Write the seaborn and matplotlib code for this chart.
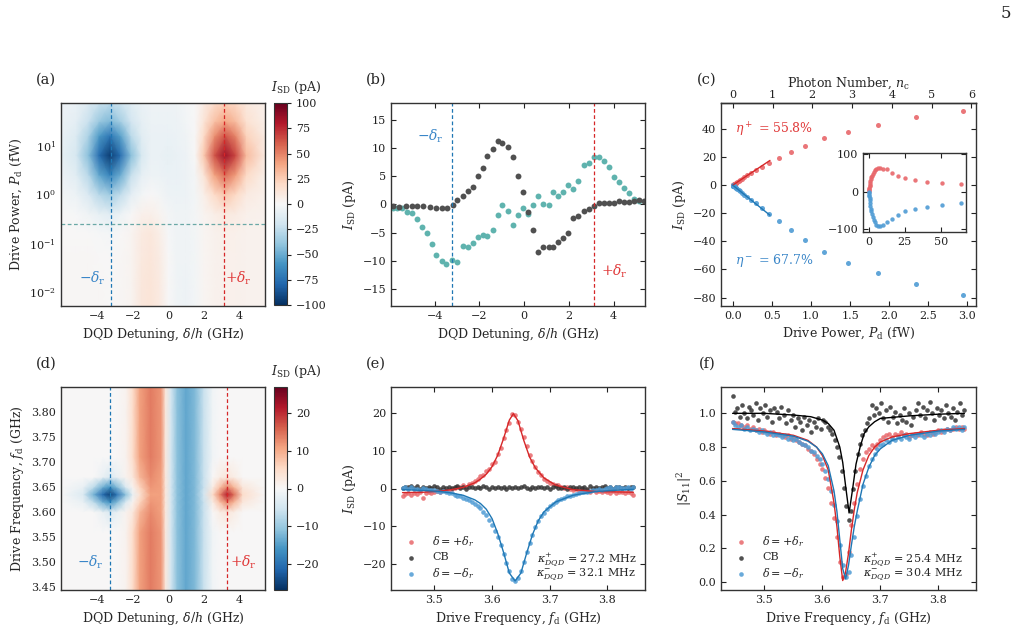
import numpy as np
import matplotlib
matplotlib.use("Agg")
import matplotlib.pyplot as plt
import seaborn as sns

# ========== data ==========
# (a) I_SD map: detuning (GHz) x log10 drive power (fW)
det_a = [-6.05, -5.2, -4.5, -3.9, -3.3, -2.7, -2.1, -1.5, -1.0, -0.5, 0.0,
         0.5, 1.0, 1.5, 2.0, 2.6, 3.2, 3.8, 4.4, 5.45]
logp_a = [-2.3, -1.8, -1.3, -0.8, -0.4, 0.0, 0.4, 0.8, 1.2, 1.5, 1.9]
isd_a = [
    [1, 1, 1, 1, 0, 1, 3, 11, 13, 9, 0, -4, -5, -3, 2, 4, 5, 5, 4, 4],
    [1, 1, 1, 1, 0, 1, 3, 11, 13, 9, 0, -4, -5, -3, 2, 4, 5, 5, 4, 4],
    [1, 1, 1, 0, 0, 1, 3, 10, 12, 8, 0, -4, -4, -3, 2, 4, 5, 5, 4, 4],
    [0, 0, 0, -1, -2, 0, 3, 9, 11, 7, -1, -4, -4, -3, 2, 4, 6, 5, 4, 4],
    [0, -1, -4, -8, -11, -6, 0, 5, 6, 3, -2, -4, -4, -2, 3, 7, 10, 8, 5, 4],
    [-3, -6, -15, -28, -35, -25, -10, -3, 0, -2, -5, -6, -5, -3, 6, 19, 28, 20, 9, 5],
    [-5, -11, -28, -52, -66, -50, -23, -9, -5, -6, -7, -7, -5, -2, 13, 40, 56, 42, 20, 6],
    [-8, -17, -42, -76, -95, -76, -42, -16, -7, -7, -8, -7, -5, 0, 26, 63, 85, 66, 32, 9],
    [-7, -14, -32, -57, -72, -54, -27, -11, -7, -7, -7, -6, -4, 0, 19, 46, 63, 49, 23, 8],
    [-6, -10, -22, -37, -44, -34, -18, -9, -6, -6, -6, -5, -3, 0, 13, 29, 39, 31, 15, 6],
    [-5, -7, -13, -21, -25, -19, -11, -7, -5, -5, -5, -4, -2, 0, 8, 17, 23, 18, 10, 5],
]

# (b) line cuts vs detuning
det_b_cb = [-5.84, -5.59, -5.28, -5.03, -4.77, -4.51, -4.21, -3.94, -3.69, -3.43,
            -3.20, -2.99, -2.75, -2.53, -2.30, -2.08, -1.86, -1.64, -1.41, -1.19,
            -0.97, -0.71, -0.49, -0.27, -0.04, 0.18, 0.40, 0.64, 0.86, 1.09,
            1.31, 1.53, 1.75, 1.98, 2.20, 2.42, 2.66, 2.88, 3.12, 3.35,
            3.57, 3.79, 4.01, 4.24, 4.46, 4.68, 4.91, 5.13, 5.35]
isd_b_cb = [-0.3, -0.4, -0.3, -0.3, -0.3, -0.3, -0.4, -0.7, -0.7, -0.7,
            -0.1, 0.8, 1.5, 2.4, 3.1, 5.1, 6.5, 8.5, 9.8, 11.3,
            10.9, 10.1, 8.4, 5.0, 2.2, -1.3, -4.6, -8.4, -7.6, -7.6,
            -7.6, -6.6, -6.0, -5.1, -2.4, -2.1, -1.2, -0.8, -0.3, 0.2,
            0.2, 0.2, 0.2, 0.6, 0.4, 0.4, 0.6, 0.8, 0.6]
det_b_low = [-5.84, -5.70, -5.48, -5.25, -5.03, -4.81, -4.58, -4.36, -4.14, -3.92,
             -3.69, -3.47, -3.22, -2.99, -2.75, -2.53, -2.30, -2.08, -1.86, -1.64,
             -1.41, -1.19, -0.97, -0.71, -0.49, -0.27, -0.04, 0.18, 0.40, 0.64,
             0.86, 1.09, 1.31, 1.53, 1.75, 1.98, 2.20, 2.42, 2.66, 2.88,
             3.12, 3.35, 3.57, 3.79, 4.01, 4.24, 4.46, 4.68, 4.91, 5.13]
isd_b_low = [-0.6, -0.7, -0.7, -1.3, -1.6, -2.6, -4.0, -5.1, -7.0, -9.0,
             -10.1, -10.5, -9.8, -10.2, -7.4, -7.5, -6.9, -5.8, -5.4, -5.6,
             -4.6, -1.8, -0.1, -1.2, -3.7, -1.9, -0.6, -1.7, -0.2, 1.4,
             0.0, -0.1, 2.1, 1.5, 2.1, 3.4, 2.7, 4.1, 7.0, 7.4,
             8.3, 8.4, 7.6, 6.6, 4.9, 3.9, 2.9, 2.0, 1.0, 0.6]

# (c) I_SD vs drive power at +/- delta_r
pd_c = [0.003, 0.005, 0.007, 0.009, 0.012, 0.015, 0.019, 0.023, 0.029, 0.037,
        0.047, 0.059, 0.074, 0.093, 0.117, 0.148, 0.186, 0.234, 0.294, 0.37,
        0.466, 0.587, 0.74, 0.93, 1.17, 1.477, 1.86, 2.34, 2.945]
isd_c_plus = [0.1, 0.2, 0.3, 0.35, 0.45, 0.55, 0.7, 0.85, 1.1, 1.4,
              1.8, 2.2, 2.8, 3.6, 4.6, 5.8, 7.0, 8.8, 10.5, 12.8,
              16.0, 19.2, 23.5, 28.2, 33.4, 37.6, 43.1, 48.3, 53.0]
isd_c_minus = [-0.15, -0.25, -0.35, -0.45, -0.55, -0.7, -0.9, -1.1, -1.4, -1.7,
               -2.2, -2.8, -3.5, -4.5, -5.6, -6.8, -8.4, -10.3, -12.5, -16.0,
               -20.7, -25.4, -32.0, -39.1, -47.4, -55.6, -62.3, -70.6, -78.1]
fit_c_x = [0.0, 0.476]
fit_c_plus = [0.0, 17.6]
fit_c_minus = [0.0, -21.4]
n_per_fw = 1.966  # photon number per fW (top axis)

# (c) inset, wider power range
pd_in = [0.05, 0.1, 0.2, 0.3, 0.45, 0.6, 0.8, 1.0, 1.3, 1.6, 2.0, 2.5, 3.2,
         4.0, 5.1, 6.4, 8.0, 10.1, 12.5, 15.8, 20.0, 25.3, 32.0, 40.2, 50.6, 63.9]
isd_in_plus = [1.8, 3.6, 7, 10, 14, 18, 23.5, 28, 33, 38, 43, 48, 53,
               57, 61, 63, 64, 62, 60, 51, 43, 36, 31, 27, 24, 20.5]
isd_in_minus = [-2.2, -4.5, -8.5, -12.5, -18, -24, -32, -39, -46, -53, -61, -68, -76,
                -83, -89, -92, -93, -90, -83, -74, -62, -53, -46, -41, -37, -31]

# (d) I_SD map: detuning (GHz) x drive frequency (GHz)
det_d = [-6.05, -4.8, -4.2, -3.7, -3.3, -2.9, -2.4, -2.0, -1.6, -1.0, -0.4, -0.15,
         0.15, 0.5, 1.0, 1.5, 2.0, 2.5, 2.9, 3.3, 3.7, 4.2, 5.45]
fd_d = [3.445, 3.56, 3.60, 3.62, 3.635, 3.65, 3.67, 3.71, 3.80, 3.849]
isd_d = [
    [0, 0, 0, 0, 0, 0, 1, 5, 11, 14, 12, 3, -5, -11, -14, -12, -6, -1, 0, 0, 0, 0, 0],
    [0, 0, 0, 0, 0, 0, 1, 5, 11, 14, 12, 3, -5, -11, -14, -12, -6, -1, 0, 0, 0, 0, 0],
    [0, 0, 0, -2, -4, -2, 1, 3, 9, 13, 11, 3, -5, -11, -14, -12, -6, 0, 2, 3, 2, 0, 0],
    [0, -2, -7, -13, -16, -12, -4, 1, 6, 12, 11, 3, -5, -11, -14, -12, -6, 2, 8, 13, 9, 3, 0],
    [0, -4, -13, -21, -25, -20, -11, -2, 4, 11, 11, 3, -5, -11, -14, -12, -5, 5, 13, 21, 15, 5, 0],
    [0, -2, -7, -13, -16, -12, -4, 1, 6, 12, 11, 3, -5, -11, -14, -12, -6, 2, 8, 13, 9, 3, 0],
    [0, 0, 0, -2, -4, -2, 1, 3, 9, 13, 11, 3, -5, -11, -14, -12, -6, 0, 2, 3, 2, 0, 0],
    [0, 0, 0, 0, 0, 0, 1, 5, 11, 14, 12, 3, -5, -11, -14, -12, -6, -1, 0, 0, 0, 0, 0],
    [0, 0, 0, 0, 0, 0, 1, 5, 11, 14, 12, 3, -5, -11, -14, -12, -6, -1, 0, 0, 0, 0, 0],
    [0, 0, 0, 0, 0, 0, 1, 5, 11, 14, 12, 3, -5, -11, -14, -12, -6, -1, 0, 0, 0, 0, 0],
]

# (e) I_SD vs drive frequency (sweep 3.445 .. 3.845 GHz)
isd_e_plus = [-1.9, -1.5, -1.3, -1.6, -1.2, -1.4, -0.9, -2.5, -1.1, -0.8,
              -1.2, -0.9, -0.6, -0.9, -0.4, -0.7, -0.3, -0.1, 0.2, 0.4,
              0.3, 0.8, 0.5, 1.2, 1.5, 2.0, 2.4, 3.2, 3.5, 4.6,
              5.3, 6.5, 7.0, 9.3, 10.8, 13.4, 15.6, 17.5, 19.9, 19.5,
              17.8, 15.9, 13.8, 11.2, 9.0, 7.4, 5.8, 4.3, 3.6, 2.6,
              2.0, 1.5, 1.2, 0.8, 0.9, 0.4, 0.1, 0.3, -0.2, -0.4,
              -0.1, -0.6, -0.3, -0.7, -0.5, -0.8, -0.4, -0.9, -0.6, -1.0,
              -0.7, -0.9, -1.1, -0.6, -1.2, -0.8, -1.0, -1.3, -0.9, -1.1,
              -1.6]
isd_e_cb = [0.1, 0.5, 0.3, 0.7, 0.2, 0.6, 0.0, 0.5, 0.2, 0.4,
            0.1, 0.6, 0.3, 0.0, 0.4, 0.2, 0.5, 0.1, 0.3, 0.6,
            0.2, 0.4, 0.0, 0.3, 0.5, 0.1, 0.4, 0.2, 0.6, 0.3,
            0.0, 0.4, 0.1, 0.5, 0.2, 0.3, 0.0, 0.4, 0.2, 0.5,
            0.1, 0.3, 0.6, 0.2, 0.0, 0.4, 0.1, 0.5, 0.3, 0.2,
            0.4, 0.0, 0.3, 0.6, 0.1, 0.2, 0.5, 0.0, 0.3, 0.4,
            0.2, 0.5, 0.1, 0.3, 0.0, 0.6, 0.2, 0.4, 0.1, 0.3,
            0.7, 0.2, 0.4, 0.0, 0.5, 0.3, 0.1, 0.4, 0.2, 0.5,
            0.3]
isd_e_minus = [0.1, 0.4, -0.2, 0.3, -0.1, 0.0, -0.3, 0.2, -0.2, -0.4,
               -0.3, -0.5, -0.6, -0.8, -0.7, -1.0, -1.1, -1.3, -1.6, -1.9,
               -2.0, -2.4, -2.7, -3.1, -3.6, -4.0, -4.7, -5.3, -6.2, -7.1,
               -8.4, -9.8, -11.2, -13.0, -15.1, -17.4, -19.9, -22.0, -24.0, -24.6,
               -23.8, -22.0, -19.6, -17.0, -14.6, -12.4, -10.3, -8.7, -7.4, -6.4,
               -5.4, -4.6, -4.0, -3.6, -3.1, -2.7, -2.5, -2.1, -1.9, -1.6,
               -1.5, -1.2, -1.0, -0.9, -0.8, -0.6, -0.4, -0.5, -0.2, -0.3,
               0.0, 0.2, 0.4, -0.1, 0.3, 0.5, 0.1, 0.2, 0.4, 0.0,
               0.3]
fit_e_plus_x = [3.445, 3.48, 3.51, 3.53, 3.55, 3.57, 3.58, 3.59, 3.60, 3.61, 3.62,
                3.63, 3.637, 3.645, 3.655, 3.665, 3.675, 3.69, 3.71, 3.74, 3.78, 3.845]
fit_e_plus = [-1.1, -1.0, -0.7, -0.3, 0.3, 1.5, 2.5, 3.8, 5.8, 8.9, 13.3,
              18.2, 19.9, 18.0, 12.8, 8.4, 5.5, 2.8, 0.9, -0.3, -0.8, -1.0]
fit_e_minus_x = [3.445, 3.48, 3.51, 3.53, 3.55, 3.57, 3.58, 3.59, 3.60, 3.61, 3.62,
                 3.63, 3.64, 3.65, 3.66, 3.67, 3.68, 3.69, 3.71, 3.74, 3.78, 3.845]
fit_e_minus = [-0.3, -0.5, -0.8, -1.2, -1.8, -3.0, -4.0, -5.5, -8.0, -12.0, -17.0,
               -22.5, -24.6, -22.5, -17.2, -12.3, -8.6, -6.2, -3.6, -1.8, -0.8, -0.2]

# (f) |S11|^2 vs drive frequency
s11_plus = [0.95, 0.94, 0.94, 0.93, 0.92, 0.93, 0.91, 0.92, 0.90, 0.91,
            0.89, 0.90, 0.89, 0.88, 0.89, 0.87, 0.88, 0.87, 0.86, 0.87,
            0.85, 0.86, 0.84, 0.83, 0.82, 0.81, 0.79, 0.78, 0.76, 0.73,
            0.70, 0.67, 0.62, 0.56, 0.47, 0.38, 0.27, 0.12, 0.03, 0.05,
            0.18, 0.34, 0.47, 0.58, 0.67, 0.73, 0.77, 0.79, 0.81, 0.80,
            0.82, 0.84, 0.86, 0.87, 0.88, 0.86, 0.88, 0.87, 0.89, 0.87,
            0.88, 0.86, 0.87, 0.88, 0.87, 0.89, 0.88, 0.87, 0.89, 0.88,
            0.89, 0.90, 0.89, 0.90, 0.91, 0.90, 0.91, 0.92, 0.91, 0.92,
            0.91]
s11_minus = [0.95, 0.93, 0.92, 0.93, 0.91, 0.92, 0.90, 0.91, 0.90, 0.89,
             0.90, 0.89, 0.88, 0.89, 0.87, 0.88, 0.87, 0.86, 0.87, 0.85,
             0.86, 0.84, 0.85, 0.83, 0.82, 0.81, 0.80, 0.78, 0.77, 0.75,
             0.73, 0.70, 0.66, 0.61, 0.54, 0.46, 0.36, 0.22, 0.10, 0.03,
             0.06, 0.16, 0.27, 0.39, 0.49, 0.57, 0.63, 0.69, 0.73, 0.76,
             0.79, 0.81, 0.82, 0.84, 0.83, 0.85, 0.84, 0.86, 0.85, 0.87,
             0.86, 0.85, 0.87, 0.86, 0.88, 0.87, 0.86, 0.88, 0.87, 0.89,
             0.88, 0.89, 0.90, 0.89, 0.91, 0.90, 0.92, 0.91, 0.92, 0.90,
             0.92]
s11_cb = [1.10, 1.01, 1.03, 0.98, 1.05, 1.00, 0.97, 1.04, 1.02, 0.99,
          1.06, 0.96, 1.03, 1.00, 1.05, 0.98, 1.02, 0.95, 1.03, 1.01,
          0.97, 1.04, 0.99, 0.94, 1.02, 0.96, 0.99, 0.92, 0.97, 0.95,
          0.90, 0.98, 0.93, 0.96, 0.89, 0.95, 0.92, 0.97, 0.91, 0.96,
          0.95, 0.92, 0.90, 0.88, 0.84, 0.80, 0.74, 0.66, 0.56, 0.45,
          0.37, 0.42, 0.55, 0.66, 0.76, 0.82, 0.87, 0.90, 0.94, 0.97,
          1.05, 0.99, 1.03, 1.00, 1.06, 0.97, 1.02, 0.95, 1.04, 0.98,
          1.01, 0.94, 0.99, 0.96, 1.03, 0.95, 1.00, 0.93, 0.98, 1.02,
          1.06, 0.99, 1.04, 0.97, 1.02, 1.07, 1.00, 0.96, 1.03, 0.99,
          1.02, 0.97, 1.05, 1.00, 0.98, 1.03, 0.96, 1.01, 1.06, 0.99,
          1.02]
fit_f_x = [3.445, 3.50, 3.55, 3.575, 3.59, 3.60, 3.61, 3.62, 3.625, 3.63, 3.635, 3.64,
           3.645, 3.65, 3.655, 3.66, 3.67, 3.68, 3.69, 3.70, 3.72, 3.75, 3.80, 3.845]
fit_f_plus = [0.91, 0.895, 0.87, 0.84, 0.80, 0.75, 0.665, 0.47, 0.33, 0.15, 0.01, 0.06,
              0.17, 0.31, 0.43, 0.53, 0.665, 0.75, 0.80, 0.83, 0.86, 0.88, 0.90, 0.91]
fit_f_minus = [0.905, 0.89, 0.865, 0.835, 0.80, 0.76, 0.69, 0.54, 0.42, 0.25, 0.08, 0.02,
               0.10, 0.22, 0.33, 0.42, 0.58, 0.68, 0.75, 0.79, 0.84, 0.87, 0.895, 0.905]
fit_f_cb_x = [3.445, 3.50, 3.55, 3.58, 3.60, 3.61, 3.62, 3.63, 3.635, 3.64, 3.646,
              3.652, 3.658, 3.665, 3.672, 3.68, 3.69, 3.70, 3.75, 3.80, 3.845]
fit_f_cb = [1.0, 1.0, 0.99, 0.98, 0.96, 0.94, 0.90, 0.80, 0.71, 0.57, 0.41,
            0.55, 0.70, 0.80, 0.88, 0.92, 0.95, 0.97, 0.985, 0.995, 1.0]

# ========== style ==========
sns.set_theme(style="ticks")
plt.rcParams['font.family'] = ['DejaVu Serif']
plt.rcParams['mathtext.fontset'] = 'dejavuserif'
plt.rcParams.update({
    'xtick.direction': 'in', 'ytick.direction': 'in',
    'xtick.top': True, 'ytick.right': True,
    'xtick.labelsize': 8, 'ytick.labelsize': 8, 'axes.labelsize': 9,
    'axes.edgecolor': '#333333', 'axes.linewidth': 1.0,
    'xtick.color': '#222222', 'ytick.color': '#222222',
    'xtick.major.size': 3.5, 'ytick.major.size': 3.5,
    'xtick.minor.size': 2, 'ytick.minor.size': 2,
    'xtick.major.width': 0.8, 'ytick.major.width': 0.8,
    'axes.labelpad': 3.5,
})

RED_PT, BLUE_PT, GREY_PT, TEAL_PT = '#e8676b', '#4f9bd4', '#333333', '#5fb3ae'
RED_LN, BLUE_LN = '#d62728', '#1f77b4'
TXT_RED, TXT_BLUE = '#e03a3a', '#3a86c8'

W, H = 1017, 636
fig = plt.figure(figsize=(W / 100, H / 100), dpi=100)


def box(l, r, t, b):
    return [l / W, 1 - b / H, (r - l) / W, (b - t) / H]


f_e = np.linspace(3.445, 3.845, len(isd_e_plus))
f_f = np.linspace(3.445, 3.845, len(s11_plus))
f_cb = np.linspace(3.445, 3.845, len(s11_cb))

# ---------- (a) ----------
ax = fig.add_axes(box(61, 265, 102.7, 306))
Xa, Ya = np.meshgrid(det_a, 10 ** np.array(logp_a))
m = ax.pcolormesh(Xa, Ya, np.array(isd_a, float), shading='gouraud',
                  cmap='RdBu_r', vmin=-100, vmax=100, rasterized=True)
ax.set_yscale('log')
ax.set_xlim(-6.05, 5.45)
ax.set_ylim(0.0052, 76)
ax.set_xticks([-4, -2, 0, 2, 4])
ax.axvline(-3.25, color=BLUE_LN, ls='--', lw=0.9, dashes=(3, 2))
ax.axvline(3.12, color=RED_LN, ls='--', lw=0.9, dashes=(3, 2))
ax.axhline(0.25, color='#6aa8a6', ls='--', lw=0.9, dashes=(3, 2))
ax.text(-4.3, 0.019, r'$-\delta_{\rm r}$', color=TXT_BLUE, fontsize=10, ha='center', va='center')
ax.text(3.95, 0.019, r'$+\delta_{\rm r}$', color=TXT_RED, fontsize=10, ha='center', va='center')
ax.set_xlabel(r'DQD Detuning, $\delta/h$ (GHz)')
ax.set_ylabel(r'Drive Power, $P_{\rm d}$ (fW)')
cax = fig.add_axes(box(274, 287, 103, 305))
cb = fig.colorbar(m, cax=cax, ticks=[-100, -75, -50, -25, 0, 25, 50, 75, 100])
cb.ax.tick_params(direction='out', length=3, labelsize=8, right=True, left=False)
cb.outline.set_linewidth(0.8)
fig.text(296 / W, 1 - 87 / H, r'$I_{\rm SD}$ (pA)', ha='center', va='center', fontsize=9)

# ---------- (b) ----------
ax = fig.add_axes(box(391, 645, 102.7, 306))
sns.scatterplot(x=det_b_low, y=isd_b_low, color=TEAL_PT, s=18, linewidth=0, ax=ax)
sns.scatterplot(x=det_b_cb, y=isd_b_cb, color='#505050', s=18, linewidth=0, ax=ax)
ax.axvline(-3.22, color=BLUE_LN, ls='--', lw=0.9, dashes=(3, 2))
ax.axvline(3.13, color=RED_LN, ls='--', lw=0.9, dashes=(3, 2))
ax.text(-4.2, 12.0, r'$-\delta_{\rm r}$', color=TXT_BLUE, fontsize=10, ha='center', va='center')
ax.text(4.05, -11.8, r'$+\delta_{\rm r}$', color=TXT_RED, fontsize=10, ha='center', va='center')
ax.set_xlim(-5.95, 5.4)
ax.set_ylim(-18, 18)
ax.set_xticks([-4, -2, 0, 2, 4])
ax.set_yticks([-15, -10, -5, 0, 5, 10, 15])
ax.set_xlabel(r'DQD Detuning, $\delta/h$ (GHz)')
ax.set_ylabel(r'$I_{\rm SD}$ (pA)')

# ---------- (c) ----------
ax = fig.add_axes(box(721, 976, 102.7, 306))
sns.scatterplot(x=pd_c, y=isd_c_plus, color=RED_PT, s=13, linewidth=0, alpha=0.9, ax=ax)
sns.scatterplot(x=pd_c, y=isd_c_minus, color=BLUE_PT, s=13, linewidth=0, alpha=0.9, ax=ax)
ax.plot(fit_c_x, fit_c_plus, color=RED_LN, lw=1)
ax.plot(fit_c_x, fit_c_minus, color=BLUE_LN, lw=1)
ax.text(0.03, 39.5, r'$\eta^+$ = 55.8%', color=TXT_RED, fontsize=9, va='center')
ax.text(0.03, -53.3, r'$\eta^-$ = 67.7%', color=TXT_BLUE, fontsize=9, va='center')
ax.set_xlim(-0.15, 3.11)
ax.set_ylim(-86, 58.7)
ax.set_xticks([0, 0.5, 1, 1.5, 2, 2.5, 3])
ax.set_yticks([-80, -60, -40, -20, 0, 20, 40])
ax.xaxis.set_major_formatter(matplotlib.ticker.FormatStrFormatter('%.1f'))
ax.tick_params(top=False)
ax.set_xlabel(r'Drive Power, $P_{\rm d}$ (fW)')
ax.set_ylabel(r'$I_{\rm SD}$ (pA)')
sec = ax.secondary_xaxis('top', functions=(lambda p: p * n_per_fw, lambda n: n / n_per_fw))
sec.set_xticks([0, 1, 2, 3, 4, 5, 6])
sec.tick_params(direction='in', labelsize=8, pad=2)
sec.set_xlabel(r'Photon Number, $n_{\rm c}$', fontsize=9, labelpad=2)

axi = fig.add_axes(box(863, 966, 153.3, 231.7))
sns.scatterplot(x=pd_in, y=isd_in_plus, color=RED_PT, s=10, linewidth=0, alpha=0.9, ax=axi)
sns.scatterplot(x=pd_in, y=isd_in_minus, color=BLUE_PT, s=10, linewidth=0, alpha=0.9, ax=axi)
axi.set_xlim(-4.2, 67.7)
axi.set_ylim(-108, 103)
axi.set_xticks([0, 25, 50])
axi.set_yticks([-100, 0, 100])
axi.tick_params(labelsize=8)

# ---------- (d) ----------
ax = fig.add_axes(box(61, 265, 387, 590))
Xd, Yd = np.meshgrid(det_d, fd_d)
m = ax.pcolormesh(Xd, Yd, np.array(isd_d, float), shading='gouraud',
                  cmap='RdBu_r', vmin=-27, vmax=27, rasterized=True)
ax.set_xlim(-6.05, 5.45)
ax.set_ylim(3.445, 3.849)
ax.set_xticks([-4, -2, 0, 2, 4])
ax.set_yticks([3.45, 3.50, 3.55, 3.60, 3.65, 3.70, 3.75, 3.80])
ax.yaxis.set_major_formatter(matplotlib.ticker.FormatStrFormatter('%.2f'))
ax.axvline(-3.3, color=BLUE_LN, ls='--', lw=0.9, dashes=(3, 2))
ax.axvline(3.3, color=RED_LN, ls='--', lw=0.9, dashes=(3, 2))
ax.text(-4.41, 3.50, r'$-\delta_{\rm r}$', color=TXT_BLUE, fontsize=10, ha='center', va='center')
ax.text(4.23, 3.50, r'$+\delta_{\rm r}$', color=TXT_RED, fontsize=10, ha='center', va='center')
ax.set_xlabel(r'DQD Detuning, $\delta/h$ (GHz)')
ax.set_ylabel(r'Drive Frequency, $f_{\rm d}$ (GHz)')
cax = fig.add_axes(box(274, 287, 387, 590))
cb = fig.colorbar(m, cax=cax, ticks=[-20, -10, 0, 10, 20])
cb.ax.tick_params(direction='out', length=3, labelsize=8, right=True, left=False)
cb.outline.set_linewidth(0.8)
fig.text(296 / W, 1 - 371 / H, r'$I_{\rm SD}$ (pA)', ha='center', va='center', fontsize=9)

# ---------- (e) ----------
ax = fig.add_axes(box(391, 645, 387, 590))
sns.scatterplot(x=f_e, y=isd_e_plus, color=RED_PT, s=11, linewidth=0, alpha=0.85,
                label=r'$\delta = +\delta_r$', ax=ax)
sns.scatterplot(x=f_e, y=isd_e_cb, color=GREY_PT, s=11, linewidth=0, alpha=0.85,
                label='CB', ax=ax)
sns.scatterplot(x=f_e, y=isd_e_minus, color=BLUE_PT, s=11, linewidth=0, alpha=0.85,
                label=r'$\delta = -\delta_r$', ax=ax)
ax.plot(fit_e_plus_x, fit_e_plus, color=RED_LN, lw=1)
ax.plot(fit_e_minus_x, fit_e_minus, color=BLUE_LN, lw=1)
ax.set_xlim(3.425, 3.865)
ax.set_ylim(-27, 27)
ax.set_xticks([3.5, 3.6, 3.7, 3.8])
ax.set_yticks([-20, -10, 0, 10, 20])
ax.legend(loc='lower left', frameon=False, fontsize=8, handletextpad=0.9,
          labelspacing=0.35, borderaxespad=0.4)
ax.text(0.965, 0.153, r'$\kappa^{+}_{DQD}$ = 27.2 MHz', transform=ax.transAxes,
        ha='right', va='center', fontsize=8)
ax.text(0.965, 0.079, r'$\kappa^{-}_{DQD}$ = 32.1 MHz', transform=ax.transAxes,
        ha='right', va='center', fontsize=8)
ax.set_xlabel(r'Drive Frequency, $f_{\rm d}$ (GHz)')
ax.set_ylabel(r'$I_{\rm SD}$ (pA)')

# ---------- (f) ----------
ax = fig.add_axes(box(721, 976, 387, 590))
sns.scatterplot(x=f_f, y=s11_plus, color=RED_PT, s=11, linewidth=0, alpha=0.85,
                label=r'$\delta = +\delta_r$', ax=ax)
sns.scatterplot(x=f_cb, y=s11_cb, color=GREY_PT, s=11, linewidth=0, alpha=0.85,
                label='CB', ax=ax)
sns.scatterplot(x=f_f, y=s11_minus, color=BLUE_PT, s=11, linewidth=0, alpha=0.85,
                label=r'$\delta = -\delta_r$', ax=ax)
ax.plot(fit_f_x, fit_f_plus, color=RED_LN, lw=1)
ax.plot(fit_f_x, fit_f_minus, color=BLUE_LN, lw=1)
ax.plot(fit_f_cb_x, fit_f_cb, color='black', lw=1)
ax.set_xlim(3.425, 3.865)
ax.set_ylim(-0.046, 1.156)
ax.set_xticks([3.5, 3.6, 3.7, 3.8])
ax.set_yticks([0.0, 0.2, 0.4, 0.6, 0.8, 1.0])
ax.yaxis.set_major_formatter(matplotlib.ticker.FormatStrFormatter('%.1f'))
ax.legend(loc='lower left', frameon=False, fontsize=8, handletextpad=0.9,
          labelspacing=0.35, borderaxespad=0.4)
ax.text(0.95, 0.153, r'$\kappa^{+}_{DQD}$ = 25.4 MHz', transform=ax.transAxes,
        ha='right', va='center', fontsize=8)
ax.text(0.95, 0.079, r'$\kappa^{-}_{DQD}$ = 30.4 MHz', transform=ax.transAxes,
        ha='right', va='center', fontsize=8)
ax.set_xlabel(r'Drive Frequency, $f_{\rm d}$ (GHz)')
ax.set_ylabel(r'$|S_{11}|^2$')

# ---------- panel letters / page number ----------
for lab, x, y in [('(a)', 46, 80), ('(b)', 376, 80), ('(c)', 707, 80),
                  ('(d)', 46, 364), ('(e)', 376, 364), ('(f)', 707, 364)]:
    fig.text(x / W, 1 - y / H, lab, ha='center', va='center', fontsize=10.5)
fig.text(1006 / W, 1 - 14 / H, '5', ha='center', va='center', fontsize=12)

fig.savefig('out.png', dpi=100)
